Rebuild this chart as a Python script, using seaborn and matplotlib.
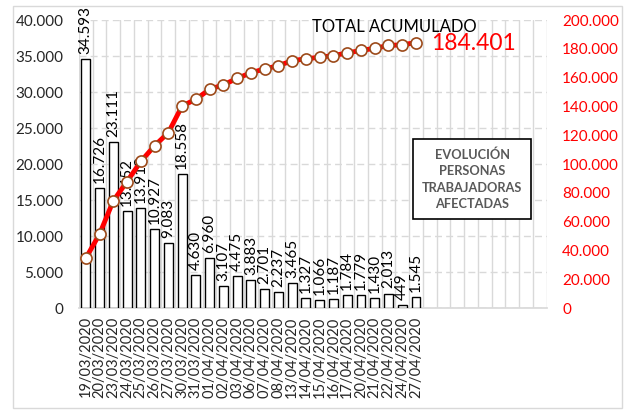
import numpy as np
import pandas as pd
import matplotlib
matplotlib.use('Agg')
import matplotlib.pyplot as plt
import seaborn as sns
from matplotlib.ticker import FuncFormatter
from matplotlib.patches import Rectangle

# Datos
fechas = ["19/03/2020", "20/03/2020", "23/03/2020", "24/03/2020", "25/03/2020",
          "26/03/2020", "27/03/2020", "30/03/2020", "31/03/2020", "01/04/2020",
          "02/04/2020", "03/04/2020", "06/04/2020", "07/04/2020", "08/04/2020",
          "13/04/2020", "14/04/2020", "15/04/2020", "16/04/2020", "17/04/2020",
          "20/04/2020", "21/04/2020", "22/04/2020", "24/04/2020", "27/04/2020"]
afectados = [34593, 16726, 23111, 13452, 13913, 10927, 9083, 18558, 4630, 6960,
             3107, 4475, 3883, 2701, 2237, 3465, 1327, 1066, 1187, 1784,
             1779, 1430, 2013, 449, 1545]
acumulado = [34593, 51319, 74430, 87882, 101795, 112722, 121805, 140363, 144993,
             151953, 155060, 159535, 163418, 166119, 168356, 171821, 173148,
             174214, 175401, 177185, 178964, 180394, 182407, 182856, 184401]
n_huecos = 9  # categorias vacias al final del eje

df = pd.DataFrame({'fecha': fechas, 'afectados': afectados, 'acumulado': acumulado})
n_total = len(fechas) + n_huecos

sns.set_theme(style='white')
plt.rcParams['font.family'] = ['Lato', 'DejaVu Sans']

miles = FuncFormatter(lambda v, p: f"{int(v):,}".replace(',', '.'))

fig = plt.figure(figsize=(6.26, 4.11), dpi=100)
ax = fig.add_axes([0.126, 0.2506, 0.7474, 0.7004])

sns.barplot(data=df, x='fecha', y='afectados', order=fechas, color='white',
            edgecolor='black', linewidth=1.0, width=0.65, ax=ax, zorder=3)
for patch in ax.patches:
    patch.set_facecolor('white')

ax.set_xlim(-0.5, n_total - 0.5)
ax.set_ylim(0, 40000)
ax.set_yticks(np.arange(0, 40001, 5000))
ax.yaxis.set_major_formatter(miles)
ax.set_xlabel('')
ax.set_ylabel('')
ax.set_xticks(range(len(fechas)))
ax.set_xticklabels(fechas, rotation=90, fontsize=10.5)
ax.tick_params(axis='x', length=0, pad=6)
ax.tick_params(axis='y', length=0, pad=11, labelsize=11)

# rejilla
ax.set_xticks(np.arange(-0.5, n_total, 1), minor=True)
ax.grid(axis='x', which='minor', color='#d9d9d9', linewidth=1, linestyle='-', zorder=0)
ax.grid(axis='y', which='major', color='#d9d9d9', linewidth=1, linestyle=(0, (5, 3)), zorder=0)
ax.grid(axis='x', which='major', visible=False)
for s in ['top', 'left', 'right']:
    ax.spines[s].set_visible(False)
ax.spines['bottom'].set_color('#d9d9d9')

for i, v in enumerate(afectados):
    ax.text(i, v + 700, f"{v:,}".replace(',', '.'), rotation=90, ha='center',
            va='bottom', fontsize=11, color='black', zorder=4)

# acumulado
ax2 = ax.twinx()
sns.lineplot(x=np.arange(len(acumulado)), y=acumulado, ax=ax2, color='red',
             linewidth=3.5, marker='o', markersize=8, markerfacecolor='white',
             markeredgecolor='#9C4A1A', markeredgewidth=1.2, zorder=5)
ax2.set_ylim(0, 200000)
ax2.set_yticks(np.arange(0, 200001, 20000))
ax2.yaxis.set_major_formatter(miles)
ax2.tick_params(axis='y', length=0, pad=11, labelsize=11, labelcolor='red')
ax2.set_xlim(-0.5, n_total - 0.5)
for s in ax2.spines.values():
    s.set_visible(False)
ax2.grid(False)

fig.text(312 / 626, 1 - 27 / 411, 'TOTAL ACUMULADO', fontsize=12, color='black',
         ha='left', va='center')
fig.text(431 / 626, 1 - 43 / 411, '184.401', fontsize=16.5, color='red',
         ha='left', va='center')

# cuadro de texto
fig.patches.append(Rectangle((413 / 626, 1 - 219 / 411), 118 / 626, 80 / 411,
                             transform=fig.transFigure, facecolor='white',
                             edgecolor='black', linewidth=1.2, zorder=10))
fig.text(472 / 626, 1 - 179 / 411, 'EVOLUCIÓN\nPERSONAS\nTRABAJADORAS\nAFECTADAS',
         fontsize=9.2, fontweight='bold', color='#595959', ha='center', va='center',
         linespacing=1.45, zorder=11)

# marco exterior
fig.patches.append(Rectangle((13 / 626, 3 / 411), 609 / 626, 402 / 411,
                             transform=fig.transFigure, facecolor='none',
                             edgecolor='#d9d9d9', linewidth=1))

fig.savefig('out.png', dpi=100)
